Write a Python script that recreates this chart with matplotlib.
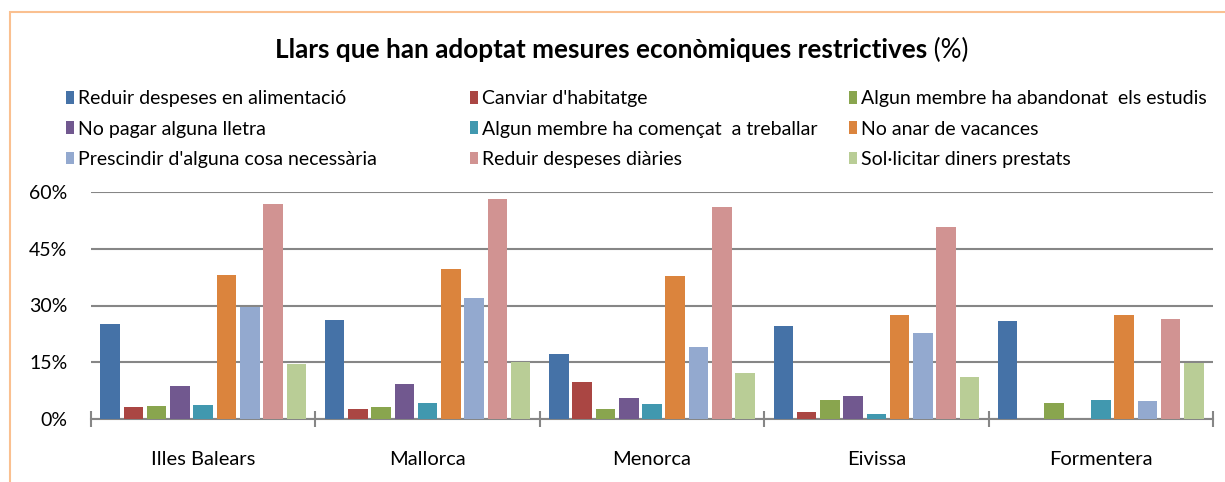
import matplotlib.pyplot as plt
import matplotlib.patches as mpatches
import numpy as np

plt.rcParams['font.family'] = ['Lato', 'DejaVu Sans']

illes = ['Illes Balears', 'Mallorca', 'Menorca', 'Eivissa', 'Formentera']

mesures = ['Reduir despeses en alimentació', "Canviar d'habitatge",
           'Algun membre ha abandonat  els estudis', 'No pagar alguna lletra',
           'Algun membre ha començat  a treballar', 'No anar de vacances',
           "Prescindir d'alguna cosa necessària", 'Reduir despeses diàries',
           'Sol·licitar diners prestats']

colors = ['#4572A7', '#AA4643', '#89A54E', '#71588F', '#4198AF',
          '#DB843D', '#93A9CF', '#D19392', '#B9CD96']

# valors (%) per mesura, en ordre: Illes Balears, Mallorca, Menorca, Eivissa, Formentera
alimentacio = [25.1, 26.2, 17.2, 24.6, 25.8]
habitatge = [3.3, 2.7, 9.9, 1.9, 0]
estudis = [3.4, 3.3, 2.6, 5.0, 4.1]
lletra = [8.6, 9.3, 5.6, 6.0, 0]
treballar = [3.8, 4.2, 4.0, 1.4, 5.1]
vacances = [38.0, 39.7, 37.8, 27.5, 27.5]
necessaria = [29.6, 32.0, 19.1, 22.8, 4.7]
diaries = [56.9, 58.2, 56.0, 50.7, 26.3]
prestats = [14.5, 15.0, 12.2, 11.1, 14.8]

valors = [alimentacio, habitatge, estudis, lletra, treballar,
          vacances, necessaria, diaries, prestats]

fig = plt.figure(figsize=(12.25, 4.82), dpi=100)

# marc taronja
fig.patches.append(mpatches.Rectangle((10/1225, -0.05), 1.1, 1 - 12/482 + 0.05,
                                      transform=fig.transFigure, fill=False,
                                      edgecolor='#FAC090', linewidth=1.5))

ax = fig.add_axes([91/1225, 1 - 419/482, (1213-91)/1225, (419-192)/482])

x = np.arange(len(illes))
slot = 0.1037
for i in range(len(mesures)):
    ax.bar(x + (i - 4) * slot, valors[i], width=slot * 0.84, color=colors[i],
           label=mesures[i], zorder=3)

ax.set_xlim(-0.5, 4.5)
ax.set_ylim(0, 60)
ax.set_yticks([0, 15, 30, 45, 60])
ax.set_yticklabels(['0%', '15%', '30%', '45%', '60%'], fontsize=14)
ax.yaxis.grid(True, color='#868686', linewidth=1.5, zorder=0)
ax.tick_params(axis='y', length=0, pad=17)

ax.set_xticks(x)
ax.set_xticklabels(illes, fontsize=14.5)
ax.set_xticks(np.arange(-0.5, 5, 1), minor=True)
ax.tick_params(axis='x', which='major', length=0, pad=23)
ax.tick_params(axis='x', which='minor', length=12, width=1.5, color='#868686',
               direction='inout')

for s in ['top', 'right', 'left']:
    ax.spines[s].set_visible(False)
ax.spines['bottom'].set_color('#868686')
ax.spines['bottom'].set_linewidth(1.5)

# titol
t = fig.text(0.4906, 1 - 50/482, 'Llars que han adoptat mesures econòmiques restrictives',
             ha='center', va='center', fontsize=18.8, fontweight='bold')
ax.annotate(' (%)', xy=(1, 0.5), xycoords=t, va='center', fontsize=18.8,
            annotation_clip=False)

# llegenda en tres columnes
handles, labels = ax.get_legend_handles_labels()
col_x = [58, 462, 841]
for c in range(3):
    idx = [c, c + 3, c + 6]
    leg = fig.legend([handles[k] for k in idx], [labels[k] for k in idx],
                     loc='upper left', bbox_to_anchor=(col_x[c]/1225, 1 - 82.5/482),
                     frameon=False, fontsize=14, handlelength=0.4, handleheight=0.6,
                     handletextpad=0.25, labelspacing=0.68, borderaxespad=0)

fig.savefig('out.png', dpi=100)
